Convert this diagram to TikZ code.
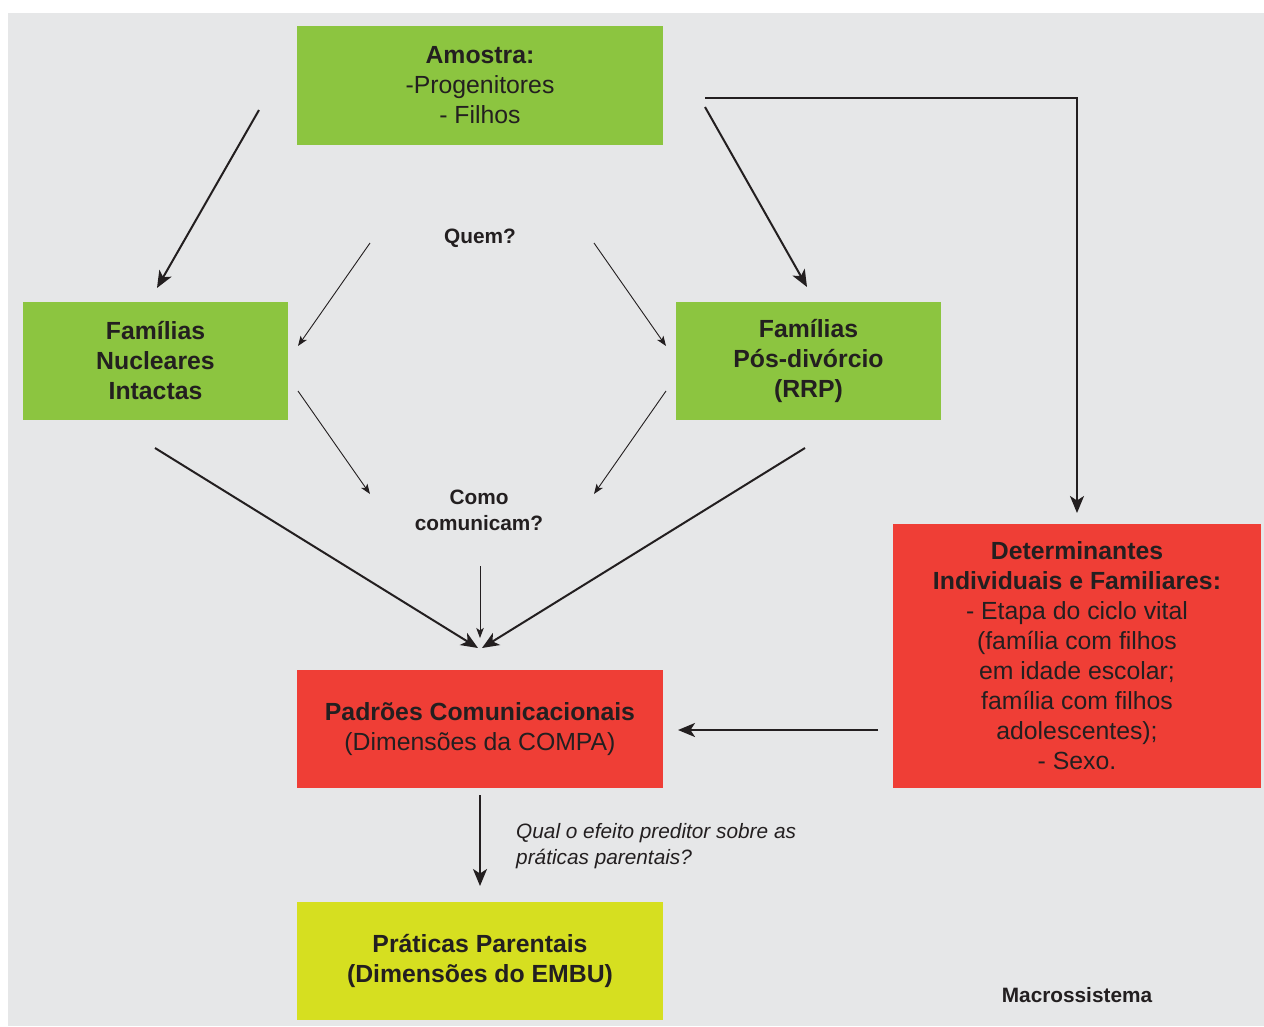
\documentclass[tikz,border=0pt]{standalone}
\usepackage{fontspec}
\setmainfont{Liberation Sans}
\usetikzlibrary{arrows.meta}

\definecolor{paneGrey}{HTML}{E6E7E8}
\definecolor{boxGreen}{HTML}{8CC540}
\definecolor{boxRed}{HTML}{EF3E36}
\definecolor{boxLime}{HTML}{D6DF20}
\definecolor{ink}{HTML}{231F20}

\tikzset{
  boxbase/.style={inner sep=0pt, outer sep=0pt, text=ink, align=center,
    font=\fontsize{24.8}{30}\selectfont},
  greenbox/.style={boxbase, fill=boxGreen, minimum width=265pt, minimum height=118pt,
    font=\bfseries\fontsize{24.8}{30}\selectfont},
  redbox/.style={boxbase, fill=boxRed},
  limebox/.style={boxbase, fill=boxLime, font=\bfseries\fontsize{24.8}{30}\selectfont},
  question/.style={inner sep=0pt, text=ink, align=center,
    font=\bfseries\fontsize{20.8}{26}\selectfont},
  bigarrow/.style={draw=ink, line width=2pt,
    -{Stealth[length=17pt,width=14pt,inset=4.5pt]}},
  thinarrow/.style={draw=ink, line width=0.9pt,
    -{Stealth[length=10pt,width=7.5pt,inset=2.5pt]}},
}

\begin{document}
\begin{tikzpicture}[x=1pt,y=-1pt]
  % page and grey panel
  \fill[white] (0,0) rectangle (1264,1026);
  \fill[paneGrey] (8,13) rectangle (1264,1026);
  \useasboundingbox (0,0) rectangle (1264,1026);

  % boxes
  \node[boxbase, fill=boxGreen, minimum width=366pt, minimum height=119pt] (amostra) at (480,85.5)
    {\textbf{Amostra:}\\-Progenitores\\- Filhos};
  \node[greenbox] (nucleares) at (155.5,361) {Famílias\\Nucleares\\Intactas};
  \node[greenbox] (posdiv) at (808.5,361) {Famílias\\Pós-divórcio\\(RRP)};
  \node[redbox, minimum width=368pt, minimum height=264pt] (determ) at (1077,656)
    {\textbf{Determinantes}\\\textbf{Individuais e Familiares:}\\- Etapa do ciclo vital\\(família com filhos\\em idade escolar;\\família com filhos\\adolescentes);\\- Sexo.};
  \node[redbox, minimum width=366pt, minimum height=118pt] (padroes) at (480,729)
    {\textbf{Padrões Comunicacionais}\\(Dimensões da COMPA)};
  \node[limebox, minimum width=366pt, minimum height=118pt] (praticas) at (480,961)
    {Práticas Parentais\\(Dimensões do EMBU)};

  % free labels
  \node[question] (quem) at (480,238) {Quem?};
  \node[question] (como) at (479,510) {Como\\comunicam?};
  \node[inner sep=0pt, text=ink, align=left, anchor=west,
        font=\itshape\fontsize{20.8}{26}\selectfont] (efeito) at (516,846)
    {Qual o efeito preditor sobre as\\práticas parentais?};
  \node[question] (macro) at (1077,995) {Macrossistema};

  % connector end points
  \coordinate (aL) at (259,110);
  \coordinate (nucIn) at (157,288);
  \coordinate (aR) at (705,107);
  \coordinate (posIn) at (807,287);
  \coordinate (aTop) at (705,98);
  \coordinate (bend) at (1077,98);
  \coordinate (detIn) at (1077,513);
  \coordinate (qL) at (370,243);
  \coordinate (qLend) at (298,346);
  \coordinate (qR) at (594,243);
  \coordinate (qRend) at (666,346);
  \coordinate (nOut) at (298,391);
  \coordinate (cL) at (370,494);
  \coordinate (pOut) at (666,391);
  \coordinate (cR) at (594,494);
  \coordinate (nBot) at (155,448);
  \coordinate (pBot) at (805,448);
  \coordinate (padInL) at (478,648);
  \coordinate (padInR) at (482,648);
  \coordinate (comoOut) at (480,566);
  \coordinate (padInC) at (480,638);
  \coordinate (detOut) at (878,730);
  \coordinate (padInSide) at (678,730);
  \coordinate (padOut) at (480,795);
  \coordinate (pratIn) at (480,886);

  % sample split into the two family types
  \draw[bigarrow] (aL) -- (nucIn);
  \draw[bigarrow] (aR) -- (posIn);
  \draw[bigarrow] (aTop) -- (bend) -- (detIn);

  % who / how questions
  \draw[thinarrow] (qL) -- (qLend);
  \draw[thinarrow] (qR) -- (qRend);
  \draw[thinarrow] (nOut) -- (cL);
  \draw[thinarrow] (pOut) -- (cR);
  \draw[thinarrow] (comoOut) -- (padInC);

  % into communication patterns
  \draw[bigarrow] (nBot) -- (padInL);
  \draw[bigarrow] (pBot) -- (padInR);
  \draw[bigarrow] (detOut) -- (padInSide);

  % towards parenting practices
  \draw[bigarrow] (padOut) -- (pratIn);
\end{tikzpicture}
\end{document}
